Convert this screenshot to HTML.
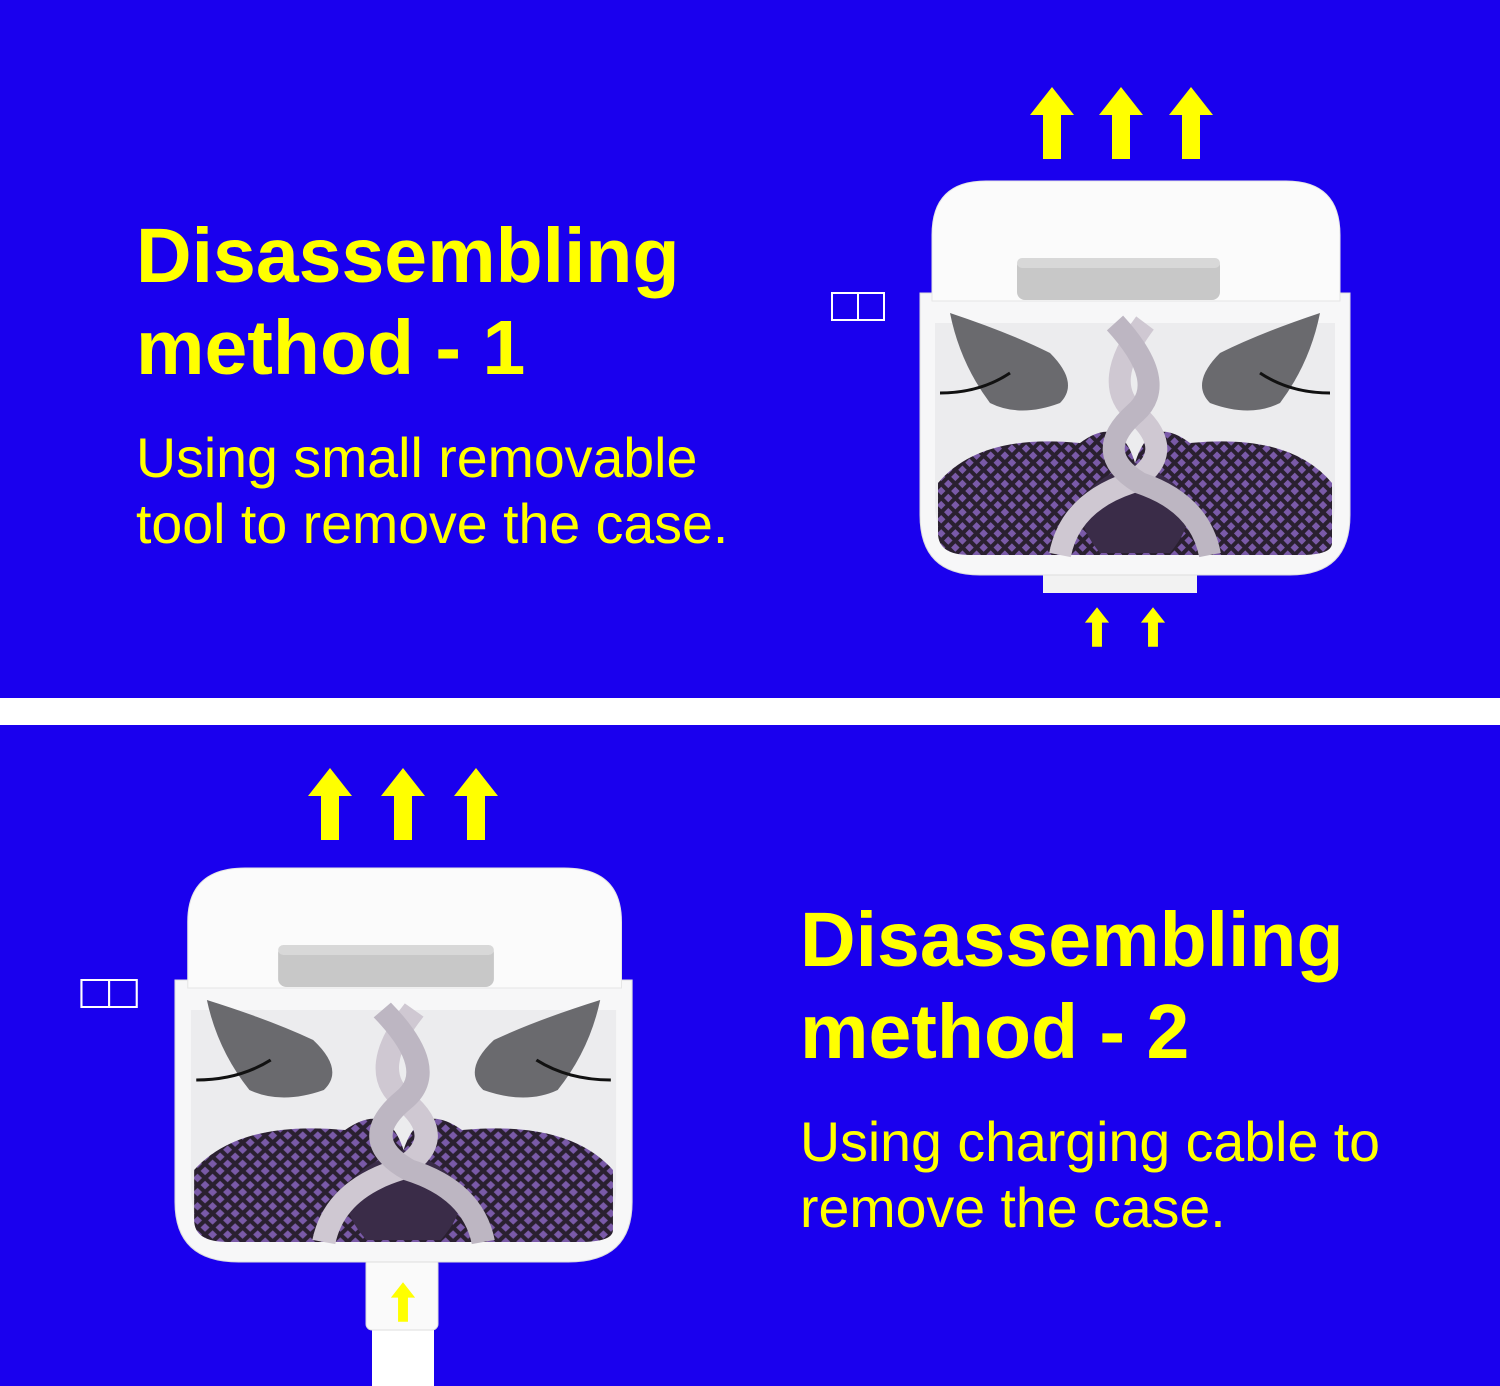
<!DOCTYPE html>
<html><head><meta charset="utf-8"><style>
html,body{margin:0;padding:0}
body{width:1500px;height:1386px;background:#fff;position:relative;overflow:hidden;font-family:"Liberation Sans",Arial,sans-serif}
.p{position:absolute;left:0;width:1500px;background:#1a00ee}
.t{position:absolute;color:#ffff00;white-space:nowrap}
.h{font-weight:bold;font-size:77px;line-height:92px}
.s{font-size:55.5px;line-height:66px}
</style></head><body>
<div class="p" style="top:0;height:698px"></div>
<div class="p" style="top:725px;height:661px"></div>

<div class="t h" style="left:136px;top:210px">Disassembling<br>method - 1</div>
<div class="t s" style="left:136px;top:425px">Using small removable<br>tool to remove the case.</div>
<div class="t h" style="left:800px;top:894px">Disassembling<br>method - 2</div>
<div class="t s" style="left:800px;top:1109px">Using charging cable to<br>remove the case.</div>

<svg width="1500" height="1386" style="position:absolute;left:0;top:0">
<defs>
<g id="arr"><polygon points="0,-36 22,-8 9,-8 9,36 -9,36 -9,-8 -22,-8" fill="#ffff00"/></g>
<pattern id="sc" width="10" height="10" patternUnits="userSpaceOnUse" patternTransform="rotate(45)">
<rect width="10" height="10" fill="#2a2030"/><rect x="2" y="2" width="6" height="6" fill="#7a5aa8"/></pattern>
<g id="case">
<rect x="-88" y="0" width="52" height="27" fill="none" stroke="#fff" stroke-width="2"/>
<line x1="-62" y1="0" x2="-62" y2="27" stroke="#fff" stroke-width="2"/>
<path d="M0,0 H430 V222 Q430,282 370,282 H60 Q0,282 0,222 Z" fill="#f7f7f8" stroke="#ddd"/>
<path d="M15,30 H415 V210 Q415,262 365,262 H65 Q15,262 15,210 Z" fill="#ececee"/>
<path d="M18,190 Q60,140 160,150 Q200,120 215,170 Q230,120 270,150 Q370,140 412,190 V250 Q412,262 380,262 H50 Q18,262 18,240 Z" fill="url(#sc)"/>
<path d="M180,260 Q130,200 215,170 Q300,200 250,260" fill="#3a2c48"/>
<path d="M225,30 Q180,90 215,120 Q260,160 210,190 Q150,210 140,262" fill="none" stroke="#cfc8d2" stroke-width="22"/>
<path d="M195,30 Q250,90 215,120 Q170,160 220,190 Q280,210 290,262" fill="none" stroke="#bdb6c2" stroke-width="22"/>
<path d="M30,20 Q90,40 130,60 Q160,90 140,110 Q100,125 70,110 Q40,70 30,20Z" fill="#6a6a6e"/>
<path d="M400,20 Q340,40 300,60 Q270,90 290,110 Q330,125 360,110 Q390,70 400,20Z" fill="#6a6a6e"/>
<path d="M20,100 Q60,100 90,80" stroke="#111" stroke-width="3" fill="none"/>
<path d="M410,100 Q370,100 340,80" stroke="#111" stroke-width="3" fill="none"/>
<path d="M12,-58 Q12,-112 66,-112 H366 Q420,-112 420,-58 V8 H12 Z" fill="#fbfbfb" stroke="#e6e6e6"/>
<rect x="97" y="-35" width="203" height="42" rx="8" fill="#c8c8c8"/>
<rect x="97" y="-35" width="203" height="10" rx="5" fill="#d8d8d8"/>
</g>
</defs>
<use href="#arr" x="1052" y="123"/><use href="#arr" x="1121" y="123"/><use href="#arr" x="1191" y="123"/>
<g transform="translate(1097,627) scale(0.55)"><use href="#arr"/></g>
<g transform="translate(1153,627) scale(0.55)"><use href="#arr"/></g>
<rect x="1043" y="565" width="154" height="28" fill="#f2f2f2"/>
<g transform="translate(920,293)"><use href="#case"/></g>

<use href="#arr" x="330" y="804"/><use href="#arr" x="403" y="804"/><use href="#arr" x="476" y="804"/>
<rect x="372" y="1262" width="62" height="124" fill="#fff"/>
<rect x="366" y="1258" width="72" height="72" rx="6" fill="#fafafa" stroke="#ddd"/>
<g transform="translate(403,1302) scale(0.55)"><use href="#arr"/></g>
<g transform="translate(175,980) scale(1.063,1)"><use href="#case"/></g>
</svg>
</body></html>
